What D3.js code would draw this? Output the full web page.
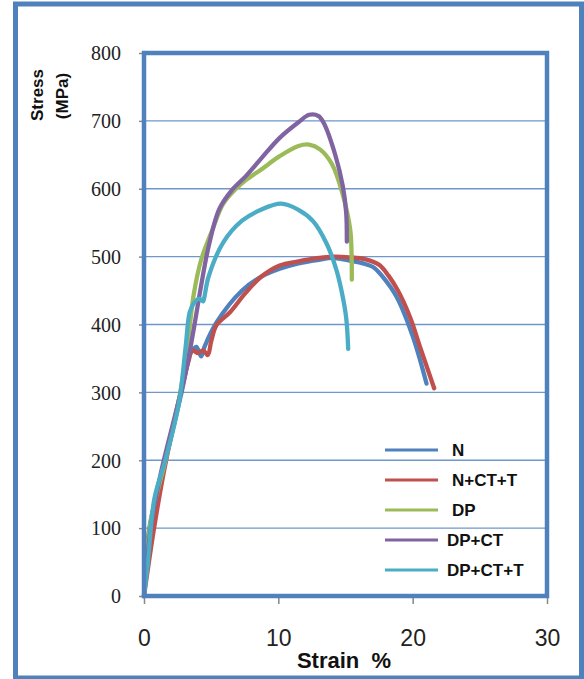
<!DOCTYPE html>
<html>
<head>
<meta charset="utf-8">
<script src="https://cdn.jsdelivr.net/npm/d3@7"></script>
<style>
body { margin: 0; background: #fff; }
svg { display: block; }
</style>
</head>
<body>
<div id="chart"></div>
<script>
// series data, [strain %, stress MPa]
var seriesNames = ["N", "N+CT+T", "DP", "DP+CT", "DP+CT+T"];
var seriesColors = ["#4F81BD", "#C0504D", "#9BBB59", "#8064A2", "#4BACC6"];

var N = [[0,0],[0.4,100],[1.6,200],[2.8,300],[3.4,355],[3.6,362],[3.9,367],[4.25,353],[4.5,367],
  [5.4,403],[7.3,450],[8.7,470],[10.1,482],[11.5,490],[12.9,495],[14.2,498],[15.3,494],[16.3,490],
  [17.1,484],[17.7,472],[18.8,441],[20.0,383],[21.03,313]];
var NCTT = [[0,0],[0.75,100],[1.5,185],[2.5,280],[3.3,345],[3.6,362],[4.0,358],[4.4,362],[4.75,355],
  [5.0,375],[5.4,399],[6.4,418],[7.5,445],[8.7,470],[10.1,487],[11.5,493],[13,498],[14,500],[15.3,499],
  [16.5,496],[17.5,488],[18.2,472],[18.9,450],[19.8,411],[20.6,364],[21.6,306]];
var DP = [[0,0],[0.5,110],[1.6,200],[2.7,300],[3.3,380],[3.7,444],[4.25,495],[5.1,540],[5.9,578],
  [6.75,598],[7.6,613],[8.7,628],[10.1,648],[11.5,663],[12.3,665],[13.1,658],[14.0,636],[14.8,591],
  [15.35,540],[15.45,505],[15.47,466]];
var DPCT = [[0,0],[0.5,100],[1.2,176],[2.3,265],[3.1,329],[3.7,393],[4.25,457],[4.8,514],[5.6,570],
  [6.5,597],[7.6,619],[8.7,644],[10.1,675],[11.5,698],[12.3,709],[13.0,707],[13.4,696],[14.25,649],
  [14.8,604],[15.05,565],[15.1,522]];
var DPCTT = [[0,0],[0.28,48],[0.78,144],[1.6,201],[2.6,284],[3.1,367],[3.4,418],[3.7,431],[4.1,438],
  [4.4,434],[4.5,441],[4.8,470],[5.9,521],[7.3,553],[8.7,569],[10.2,578],[11.5,569],[12.6,552],
  [13.6,519],[14.3,482],[14.7,450],[15.05,410],[15.2,364]];
var allSeries = [N, NCTT, DP, DPCT, DPCTT];

var xTicks = [0, 10, 20, 30];
var yTicks = [0, 100, 200, 300, 400, 500, 600, 700, 800];

var width = 584, height = 679;
var margin = {top: 53, right: 37, bottom: 83, left: 144};

var svg = d3.select("#chart").append("svg")
  .attr("width", width)
  .attr("height", height);

// outer border
svg.append("rect")
  .attr("x", 15.5)
  .attr("y", 4)
  .attr("width", 566)
  .attr("height", 674)
  .style("fill", "#fff")
  .style("stroke", "#4F81BD")
  .style("stroke-width", 5);

var xScale = d3.scaleLinear().domain([0, 30]).range([margin.left, width - margin.right]);
var yScale = d3.scaleLinear().domain([0, 800]).range([height - margin.bottom, margin.top]);

// gridlines
svg.append("g")
  .attr("id", "grid")
  .selectAll("line")
  .data(yTicks.slice(1, -1))
  .enter()
  .append("line")
  .attr("x1", xScale(0))
  .attr("x2", xScale(30))
  .attr("y1", function(d){ return yScale(d); })
  .attr("y2", function(d){ return yScale(d); })
  .style("stroke", "#6F97CA")
  .style("stroke-width", 1.3);

// y axis ticks + labels
var yAxis = d3.axisLeft(yScale).tickValues(yTicks).tickSize(5).tickPadding(18);
var gy = svg.append("g")
  .attr("transform", "translate(" + xScale(0) + ",0)")
  .call(yAxis);
gy.select(".domain").remove();
gy.selectAll(".tick line").style("stroke", "#888").style("stroke-width", 1.5);
gy.selectAll(".tick text")
  .style("font-family", "'Liberation Serif', serif")
  .style("font-size", "20px")
  .style("fill", "#222")
  .attr("dy", "0.34em");

// x axis ticks + labels
var xAxis = d3.axisBottom(xScale).tickValues(xTicks).tickSize(8).tickPadding(26);
var gx = svg.append("g")
  .attr("transform", "translate(0," + yScale(0) + ")")
  .call(xAxis);
gx.select(".domain").remove();
gx.selectAll(".tick line").style("stroke", "#888").style("stroke-width", 1.5);
gx.selectAll(".tick text")
  .style("font-family", "'Liberation Sans', sans-serif")
  .style("font-size", "23px")
  .style("fill", "#222");

// curves
var line = d3.line()
  .x(function(d){ return xScale(d[0]); })
  .y(function(d){ return yScale(d[1]); })
  .curve(d3.curveCatmullRom.alpha(0.5));

svg.append("g")
  .attr("id", "curves")
  .selectAll("path")
  .data(allSeries)
  .enter()
  .append("path")
  .attr("d", line)
  .style("fill", "none")
  .style("stroke", function(d, i){ return seriesColors[i]; })
  .style("stroke-width", 4.3)
  .style("stroke-linejoin", "round")
  .style("stroke-linecap", "round");

// plot frame
svg.append("rect")
  .attr("x", xScale(0))
  .attr("y", yScale(800))
  .attr("width", xScale(30) - xScale(0))
  .attr("height", yScale(0) - yScale(800))
  .style("fill", "none")
  .style("stroke", "#4F81BD")
  .style("stroke-width", 4.5);

// legend
var legendX = [385, 438, 452];
var legend = svg.append("g").attr("id", "legend")
  .selectAll("g")
  .data(seriesNames)
  .enter()
  .append("g")
  .attr("transform", function(d, i){ return "translate(0," + (450 + i * 30) + ")"; });

legend.append("line")
  .attr("x1", legendX[0])
  .attr("x2", legendX[1])
  .attr("y1", 0)
  .attr("y2", 0)
  .style("stroke", function(d, i){ return seriesColors[i]; })
  .style("stroke-width", 3);

legend.append("text")
  .attr("x", function(d, i){ return i >= 3 ? legendX[2] - 5 : legendX[2]; })
  .attr("y", 0)
  .attr("dy", "0.35em")
  .style("font-family", "'Liberation Sans', sans-serif")
  .style("font-weight", "bold")
  .style("font-size", "17px")
  .style("fill", "#111")
  .text(function(d){ return d; });

// axis titles
svg.append("text")
  .attr("text-anchor", "middle")
  .attr("x", 344)
  .attr("y", 668)
  .style("font-family", "'Liberation Sans', sans-serif")
  .style("font-weight", "bold")
  .style("font-size", "22px")
  .style("fill", "#111")
  .text("Strain\u00a0\u00a0%");

svg.append("text")
  .attr("text-anchor", "middle")
  .attr("transform", "translate(43,95) rotate(-90)")
  .style("font-family", "'Liberation Sans', sans-serif")
  .style("font-weight", "bold")
  .style("font-size", "17px")
  .style("fill", "#111")
  .text("Stress");

svg.append("text")
  .attr("text-anchor", "middle")
  .attr("transform", "translate(68,96) rotate(-90)")
  .style("font-family", "'Liberation Sans', sans-serif")
  .style("font-weight", "bold")
  .style("font-size", "17px")
  .style("fill", "#111")
  .text("(MPa)");
</script>
</body>
</html>
